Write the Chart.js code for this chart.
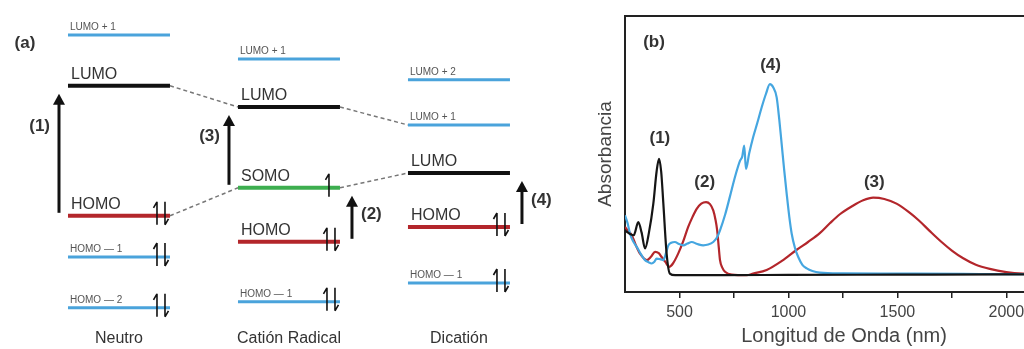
<!DOCTYPE html>
<html>
<head>
<meta charset="utf-8">
<script src="https://cdn.jsdelivr.net/npm/chart.js@4.4.0/dist/chart.umd.min.js"></script>
<style>
  html, body { margin: 0; padding: 0; background: #fff; width: 1024px; height: 349px; overflow: hidden; }
  #wrapA { position: absolute; left: 0; top: 0; width: 580px; height: 349px; }
  #wrapB { position: absolute; left: 580px; top: 0; width: 520px; height: 349px; }
</style>
</head>
<body>
<div id="wrapA"><canvas id="diagram"></canvas></div>
<div id="wrapB"><canvas id="spectra"></canvas></div>
<script>
// ---- (a) diagrama de niveles (energia en unidades arbitrarias) ----
const columns = ["Neutro", "Catión Radical", "Dicatión"];
const levelNames = [
  ["LUMO + 1", "LUMO", "HOMO", "HOMO — 1", "HOMO — 2"],
  ["LUMO + 1", "LUMO", "SOMO", "HOMO", "HOMO — 1"],
  ["LUMO + 2", "LUMO + 1", "LUMO", "HOMO", "HOMO — 1"]
];
const levelEnergies = [
  [7.85, 6.58, 3.33, 2.30, 1.03],
  [7.25, 6.05, 4.03, 2.68, 1.18],
  [6.73, 5.60, 4.40, 3.05, 1.65]
];
const levelElectrons = [
  [0, 0, 2, 2, 2],
  [0, 0, 1, 2, 2],
  [0, 0, 0, 2, 2]
];
const connectors = [
  [[0, "LUMO"], [1, "LUMO"]],
  [[0, "HOMO"], [1, "SOMO"]],
  [[1, "LUMO"], [2, "LUMO + 1"]],
  [[1, "SOMO"], [2, "LUMO"]]
];
const transitions = [
  { label: "(1)", col: 0, from: "HOMO", to: "LUMO", side: "left", labelAt: 0.73 },
  { label: "(2)", col: 1, from: "HOMO", to: "SOMO", side: "right", labelAt: 0.56 },
  { label: "(3)", col: 1, from: "SOMO", to: "LUMO", side: "left", labelAt: 0.69 },
  { label: "(4)", col: 2, from: "HOMO", to: "LUMO", side: "right", labelAt: 0.56 }
];

// ---- (b) espectros ----
const blackNm  = [250, 262, 275, 290, 311, 326, 342, 360, 380, 395, 406, 416, 426, 441, 456, 480, 700, 1000, 1500, 2000, 2260];
const blackAbs = [0.173, 0.165, 0.158, 0.154, 0.205, 0.165, 0.103, 0.165, 0.276, 0.40, 0.449, 0.40, 0.276, 0.083, 0.006, 0.0, 0.0, 0.001, 0.002, 0.003, 0.003];

const redNm  = [250, 265, 281, 300, 319, 350, 370, 388, 405, 418, 436, 453, 470, 494, 517, 540, 560, 579, 600, 622, 640, 655, 665, 673, 680, 686, 697, 709, 740, 808, 838, 900, 970, 1038, 1090, 1144, 1190, 1236, 1290, 1343, 1389, 1440, 1496, 1550, 1600, 1649, 1700, 1750, 1802, 1860, 1924, 2000, 2076, 2260];
const redAbs = [0.186, 0.17, 0.154, 0.115, 0.083, 0.058, 0.072, 0.09, 0.085, 0.07, 0.05, 0.032, 0.045, 0.083, 0.13, 0.186, 0.225, 0.256, 0.276, 0.282, 0.274, 0.25, 0.215, 0.173, 0.11, 0.058, 0.028, 0.013, 0.002, 0.0, 0.006, 0.02, 0.055, 0.098, 0.128, 0.162, 0.2, 0.235, 0.265, 0.289, 0.299, 0.294, 0.276, 0.245, 0.21, 0.17, 0.13, 0.095, 0.065, 0.04, 0.024, 0.012, 0.006, 0.003];

const blueNm  = [250, 262, 273, 288, 304, 320, 342, 358, 372, 385, 395, 410, 426, 438, 449, 462, 479, 498, 518, 537, 556, 582, 609, 632, 655, 672, 686, 710, 732, 755, 778, 788, 797, 805, 820, 838, 858, 877, 897, 915, 930, 946, 958, 969, 980, 992, 1004, 1015, 1030, 1045, 1064, 1084, 1110, 1144, 1250, 1500, 1800, 2000, 2260];
const blueAbs = [0.231, 0.2, 0.16, 0.13, 0.109, 0.085, 0.058, 0.05, 0.045, 0.052, 0.064, 0.062, 0.058, 0.085, 0.115, 0.125, 0.128, 0.12, 0.115, 0.122, 0.128, 0.12, 0.115, 0.118, 0.128, 0.145, 0.173, 0.235, 0.305, 0.38, 0.442, 0.458, 0.5, 0.41, 0.47, 0.532, 0.59, 0.647, 0.7, 0.737, 0.725, 0.686, 0.6, 0.506, 0.41, 0.314, 0.225, 0.16, 0.105, 0.07, 0.04, 0.026, 0.016, 0.01, 0.007, 0.006, 0.005, 0.004, 0.004];

const xTickValues = [500, 750, 1000, 1250, 1500, 1750, 2000];
const peakLabels = [
  { text: "(1)", nm: 410, abs: 0.527 },
  { text: "(2)", nm: 616, abs: 0.358 },
  { text: "(3)", nm: 1394, abs: 0.358 },
  { text: "(4)", nm: 918, abs: 0.808 }
];

const FONT = "'Liberation Sans', Arial, sans-serif";
Chart.defaults.font.family = FONT;

// ---------- (a) ----------
const HALF = 0.3;
const isMain = name => name === "LUMO" || name === "HOMO" || name === "SOMO";
const levelColor = name =>
  name === "LUMO" ? "#111111" : name === "HOMO" ? "#b3262b" : name === "SOMO" ? "#3dae4f" : "#4aa3db";
const energyOf = (c, name) => levelEnergies[c][levelNames[c].indexOf(name)];

const levelDatasets = [];
columns.forEach((col, c) => {
  levelNames[c].forEach((name, i) => {
    const e = levelEnergies[c][i];
    levelDatasets.push({
      data: [{ x: c - HALF, y: e }, { x: c + HALF, y: e }],
      borderColor: levelColor(name),
      borderWidth: isMain(name) ? 4 : 3,
      borderCapStyle: "butt"
    });
  });
});
const connectorDatasets = connectors.map(([a, b]) => ({
  data: [{ x: a[0] + HALF, y: energyOf(a[0], a[1]) }, { x: b[0] - HALF, y: energyOf(b[0], b[1]) }],
  borderColor: "#777",
  borderWidth: 1.5,
  borderDash: [4, 3]
}));

function spin(ctx, x, y, up) {
  const top = y - 14, bot = y + 9;
  ctx.beginPath();
  ctx.moveTo(x, bot);
  ctx.lineTo(x, top);
  if (up) { ctx.moveTo(x, top); ctx.lineTo(x - 3.5, top + 6); }
  else { ctx.moveTo(x, bot); ctx.lineTo(x + 3.5, bot - 6); }
  ctx.stroke();
}

const diagramOverlay = {
  id: "diagramOverlay",
  afterDatasetsDraw(chart) {
    const { ctx, chartArea, scales: { x, y } } = chart;
    ctx.save();
    ctx.textBaseline = "alphabetic";
    columns.forEach((col, c) => {
      levelNames[c].forEach((name, i) => {
        const left = x.getPixelForValue(c - HALF);
        const right = x.getPixelForValue(c + HALF);
        const py = y.getPixelForValue(levelEnergies[c][i]);
        ctx.textAlign = "left";
        if (isMain(name)) {
          ctx.fillStyle = "#333";
          ctx.font = "16px " + FONT;
          ctx.fillText(name, left + 3, py - 7);
        } else {
          ctx.fillStyle = "#555";
          ctx.font = "10px " + FONT;
          ctx.fillText(name, left + 2, py - 5);
        }
        const n = levelElectrons[c][i];
        ctx.strokeStyle = "#111";
        ctx.lineWidth = 1.6;
        if (n === 2) { spin(ctx, right - 13, py, true); spin(ctx, right - 5, py, false); }
        else if (n === 1) { spin(ctx, right - 11, py, true); }
      });
      ctx.fillStyle = "#333";
      ctx.font = "16px " + FONT;
      ctx.textAlign = "center";
      ctx.fillText(col, x.getPixelForValue(c), chartArea.bottom - 6);
    });

    transitions.forEach(t => {
      const yFrom = y.getPixelForValue(energyOf(t.col, t.from)) - 3;
      const yTo = y.getPixelForValue(energyOf(t.col, t.to)) + 8;
      const ax = t.side === "left" ? x.getPixelForValue(t.col - HALF) - 9 : x.getPixelForValue(t.col + HALF) + 12;
      ctx.strokeStyle = "#111";
      ctx.fillStyle = "#111";
      ctx.lineWidth = 3;
      ctx.beginPath();
      ctx.moveTo(ax, yFrom);
      ctx.lineTo(ax, yTo + 9);
      ctx.stroke();
      ctx.beginPath();
      ctx.moveTo(ax, yTo);
      ctx.lineTo(ax - 6, yTo + 11);
      ctx.lineTo(ax + 6, yTo + 11);
      ctx.closePath();
      ctx.fill();
      ctx.fillStyle = "#333";
      ctx.font = "bold 17px " + FONT;
      ctx.textBaseline = "middle";
      ctx.textAlign = t.side === "left" ? "right" : "left";
      const ly = yFrom + (yTo - yFrom) * t.labelAt;
      ctx.fillText(t.label, t.side === "left" ? ax - 9 : ax + 9, ly);
      ctx.textBaseline = "alphabetic";
    });

    ctx.fillStyle = "#333";
    ctx.font = "bold 17px " + FONT;
    ctx.textAlign = "center";
    ctx.textBaseline = "middle";
    ctx.fillText("(a)", chartArea.left + 25, chartArea.top + 43);
    ctx.restore();
  }
};

new Chart(document.getElementById("diagram"), {
  type: "scatter",
  data: { datasets: [...connectorDatasets, ...levelDatasets] },
  options: {
    responsive: true,
    maintainAspectRatio: false,
    animation: false,
    showLine: true,
    layout: { padding: 0 },
    elements: { point: { radius: 0, hoverRadius: 0 } },
    plugins: { legend: { display: false }, tooltip: { enabled: false } },
    scales: {
      x: { type: "linear", display: false, min: -0.7, max: 2.712 },
      y: { display: false, min: 0, max: 8.725 }
    }
  },
  plugins: [diagramOverlay]
});

// ---------- (b) ----------
const spectraOverlay = {
  id: "spectraOverlay",
  afterDraw(chart) {
    const { ctx, chartArea, scales: { x, y } } = chart;
    ctx.save();
    ctx.strokeStyle = "#222";
    ctx.lineWidth = 2;
    ctx.beginPath();
    ctx.moveTo(chartArea.left - 1, chartArea.top);
    ctx.lineTo(chartArea.right, chartArea.top);
    ctx.stroke();
    ctx.fillStyle = "#333";
    ctx.font = "bold 17px " + FONT;
    ctx.textAlign = "center";
    ctx.textBaseline = "middle";
    peakLabels.forEach(p => ctx.fillText(p.text, x.getPixelForValue(p.nm), y.getPixelForValue(p.abs)));
    ctx.fillText("(b)", chartArea.left + 29, chartArea.top + 26);
    ctx.restore();
  }
};

const toPoints = (xs, ys) => xs.map((v, i) => ({ x: v, y: ys[i] }));

new Chart(document.getElementById("spectra"), {
  type: "line",
  data: {
    datasets: [
      { label: "(1)", data: toPoints(blackNm, blackAbs), borderColor: "#151515" },
      { label: "(4)", data: toPoints(blueNm, blueAbs), borderColor: "#45a6e0" },
      { label: "(2)/(3)", data: toPoints(redNm, redAbs), borderColor: "#b3262b" }
    ]
  },
  options: {
    responsive: true,
    maintainAspectRatio: false,
    animation: false,
    layout: { padding: { top: 16, right: 37, left: 0, bottom: 0 } },
    elements: {
      point: { radius: 0, hoverRadius: 0 },
      line: { borderWidth: 2.2, cubicInterpolationMode: "monotone", fill: false }
    },
    plugins: { legend: { display: false }, tooltip: { enabled: false } },
    scales: {
      x: {
        type: "linear",
        min: 250,
        max: 2260,
        afterBuildTicks: axis => { axis.ticks = xTickValues.map(v => ({ value: v })); },
        afterFit: axis => { axis.height = 57; },
        grid: { drawOnChartArea: false, drawTicks: true, tickLength: 6, color: "#222", lineWidth: 1.5 },
        border: { display: true, color: "#222", width: 2 },
        ticks: {
          padding: 5, color: "#444", font: { size: 16 }, maxRotation: 0, autoSkip: false,
          callback: v => (v % 500 === 0 ? String(v) : "")
        },
        title: {
          display: true, text: "Longitud de Onda (nm)", color: "#444",
          font: { size: 20 }, padding: { top: 0, bottom: 1 }
        }
      },
      y: {
        min: -0.065,
        max: 1.0,
        afterFit: axis => { axis.width = 45; },
        grid: { display: false },
        border: { display: true, color: "#222", width: 2 },
        ticks: { display: false },
        title: {
          display: true, text: "Absorbancia", color: "#444",
          font: { size: 19 }, padding: { top: 14, bottom: 0 }
        }
      }
    }
  },
  plugins: [spectraOverlay]
});
</script>
</body>
</html>
